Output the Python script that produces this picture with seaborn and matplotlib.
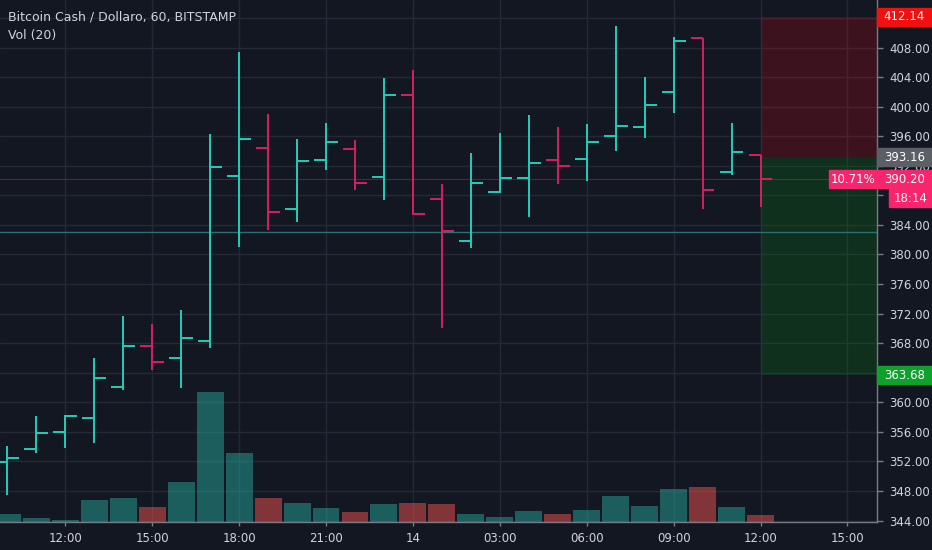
import matplotlib
matplotlib.use("Agg")
import matplotlib.pyplot as plt
import matplotlib.transforms as mtransforms
from matplotlib.patches import Rectangle
import numpy as np
import seaborn as sns

# hourly bars, x = hours counted from day 13 00:00
hours = list(range(10, 37))
opens = [351.87, 353.67, 355.97, 357.91, 362.02, 367.57, 365.98, 368.24, 390.65,
         394.44, 386.10, 392.74, 394.27, 390.48, 401.61, 387.50, 381.86, 388.45,
         390.30, 392.74, 392.87, 395.98, 397.28, 401.94, 409.24, 391.15, 393.45]
highs = [354.07, 358.13, 358.26, 365.98, 371.63, 370.58, 372.44, 396.30, 407.35,
         399.00, 395.62, 397.74, 395.48, 403.83, 404.96, 389.53, 393.68, 396.47,
         398.87, 397.20, 397.61, 410.91, 404.05, 409.46, 409.24, 397.74, 393.45]
lows = [347.44, 353.17, 353.76, 354.44, 361.65, 364.36, 361.96, 367.38, 381.04,
        383.30, 384.43, 391.42, 388.72, 387.36, 385.33, 370.08, 380.83, 388.27,
        385.02, 389.57, 389.98, 394.04, 395.71, 399.10, 386.11, 390.75, 386.46]
closes = [352.41, 355.88, 358.13, 363.32, 367.57, 365.40, 368.73, 391.79, 395.58,
          385.70, 392.60, 395.25, 389.62, 401.61, 385.51, 383.13, 389.62, 390.30,
          392.33, 391.92, 395.25, 397.38, 400.22, 408.88, 388.76, 393.90, 390.20]
volumes = [310, 150, 90, 880, 970, 590, 1600, 5190, 2760, 970, 760, 560, 390, 720,
           760, 720, 310, 190, 430, 310, 480, 1050, 640, 1310, 1390, 600, 270]

entry_price = 393.16
stop_price = 412.14
target_price = 363.68
last_price = 390.20
level_price = 383.10
pct_label = "10.71%"
countdown = "18:14"

time_ticks = [12, 15, 18, 21, 24, 27, 30, 33, 36, 39]
time_labels = ["12:00", "15:00", "18:00", "21:00", "14", "03:00", "06:00",
               "09:00", "12:00", "15:00"]
price_ticks = [344, 348, 352, 356, 360, 364, 368, 372, 376, 380, 384, 388, 392,
               396, 400, 404, 408, 412]
# tick labels covered by the price boxes on the right
hidden_ticks = [364, 388, 412]

BG = "#131722"
GRID = "#252936"
TXT = "#d1d4dc"
UP = "#20cfb8"
DOWN = "#d4215f"
PINK = "#f8256c"

sns.set_theme(style="dark", rc={
    "axes.facecolor": BG, "figure.facecolor": BG,
    "text.color": TXT, "xtick.color": TXT, "ytick.color": TXT,
})
plt.rcParams["font.family"] = ["DejaVu Sans"]

fig = plt.figure(figsize=(9.32, 5.5), dpi=100)
ax = fig.add_axes([0, 28 / 550, 877 / 932, 522 / 550])
ax.set_xlim(9.746, 40.02)
ax.set_ylim(343.8, 414.43)

ax.set_xticks(time_ticks)
ax.set_xticklabels(time_labels, fontsize=8.5)
ax.set_yticks(price_ticks)
ax.set_yticklabels(["" if p in hidden_ticks else f"{p:.2f}" for p in price_ticks],
                   fontsize=8.5)
ax.yaxis.tick_right()
ax.tick_params(axis="x", length=3, width=1, color="#787b86", pad=4, bottom=True)
ax.tick_params(axis="y", length=4, width=1, color="#787b86", pad=5, right=True)
ax.grid(True, color=GRID, lw=1)
for s in ["top", "left"]:
    ax.spines[s].set_visible(False)
for s in ["right", "bottom"]:
    ax.spines[s].set_color("#787b86")
    ax.spines[s].set_linewidth(1)

# horizontal levels
ax.axhline(level_price, color="#2a6f73", lw=1, zorder=2)
ax.axhline(last_price, color=DOWN, lw=0.8, alpha=0.45, zorder=2)

# short position boxes
x0 = hours[-1]
ax.axhspan(entry_price, stop_price, xmin=(x0 - 9.746) / (40.02 - 9.746), xmax=1,
           color="#ff0014", alpha=0.18, lw=0, zorder=1.5)
ax.axhspan(target_price, entry_price, xmin=(x0 - 9.746) / (40.02 - 9.746), xmax=1,
           color="#00960a", alpha=0.2, lw=0, zorder=1.5)

# OHLC bars
tick = 0.41
for h, o, hi, lo, c in zip(hours, opens, highs, lows, closes):
    col = UP if c >= o else DOWN
    ax.vlines(h, lo, hi, color=col, lw=1.4, zorder=4)
    ax.hlines(o, h - tick, h, color=col, lw=1.4, zorder=4)
    ax.hlines(c, h, h + tick, color=col, lw=1.4, zorder=4)

# volume pane overlay
ax2 = fig.add_axes(ax.get_position(), sharex=ax, facecolor="none")
ax2.set_ylim(0, 522 * 40)
vcols = ["#26a69a" if c >= o else "#ef5350" for o, c in zip(opens, closes)]
ax2.bar(hours, volumes, width=0.93, color=vcols, alpha=0.5, lw=0)
ax2.axis("off")

# right-axis labels
trans = mtransforms.blended_transform_factory(ax.transAxes, ax.transData)
xr = 932 / 877


def price_box(y, text, color, x_left=1.0, x_right=xr, half=1.22, dy=0.0):
    ax.add_patch(Rectangle((x_left, y - half + dy), x_right - x_left, 2 * half,
                           transform=trans, color=color, clip_on=False, zorder=10))
    ax.text((x_left + x_right) / 2, y + dy, text, transform=trans, ha="center",
            va="center", fontsize=8.5, color="white", zorder=11, clip_on=False)


price_box(stop_price, f"{stop_price:.2f}", "#f01010")
price_box(entry_price, f"{entry_price:.2f}", "#5d5f66")
price_box(last_price, f"{last_price:.2f}", PINK)
price_box(last_price, countdown, PINK, x_left=889 / 877, dy=-2.6)
price_box(target_price, f"{target_price:.2f}", "#10a02c")
price_box(last_price, pct_label, PINK, x_left=829 / 877, x_right=1.0)

fig.text(8 / 932, 1 - 17 / 550, "Bitcoin Cash / Dollaro, 60, BITSTAMP",
         fontsize=9, color=TXT, va="center")
fig.text(8 / 932, 1 - 35 / 550, "Vol (20)", fontsize=9, color=TXT, va="center")

fig.savefig("out.png", dpi=100, facecolor=BG)
